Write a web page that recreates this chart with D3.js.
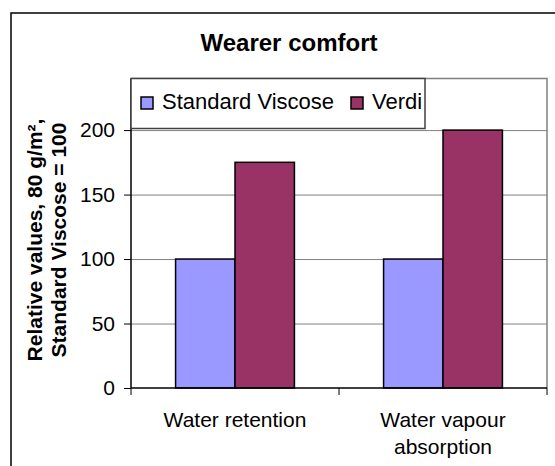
<!DOCTYPE html>
<html>
<head>
<meta charset="utf-8">
<script src="https://cdn.jsdelivr.net/npm/d3@7/dist/d3.min.js"></script>
<style>
  html, body { margin: 0; padding: 0; background: #fff; }
  svg { display: block; font-family: Arial, "Liberation Sans", sans-serif; }
</style>
</head>
<body>
<svg id="chart" width="555" height="466"></svg>
<script>
const categories = [["Water retention"], ["Water vapour", "absorption"]];
const categoryKeys = ["Water retention", "Water vapour absorption"];
const seriesNames = ["Standard Viscose", "Verdi"];
const standardViscose = [100, 100];
const verdi = [175, 200];
const yTicks = [0, 50, 100, 150, 200];
const colors = ["#9999FF", "#993366"];
const titleText = "Wearer comfort";

const svg = d3.select("#chart");

// outer chart border (extends past the picture on right/bottom)
svg.append("rect").attr("x", 11).attr("y", 13).attr("width", 570).attr("height", 480)
  .attr("fill", "#fff").attr("stroke", "#000").attr("stroke-width", 1.5);

const plot = { left: 131, right: 547, top: 78.5, bottom: 388 };

const y = d3.scaleLinear().domain([0, 240]).range([plot.bottom, plot.top]);
const x0 = d3.scaleBand().domain(categoryKeys).range([plot.left, plot.right]).padding(0);
const x1 = d3.scaleBand().domain(seriesNames).range([0, x0.bandwidth()]).paddingInner(0).paddingOuter(0.75);

// gridlines
svg.append("g").selectAll("line").data(yTicks.filter(d => d > 0)).join("line")
  .attr("x1", plot.left).attr("x2", plot.right)
  .attr("y1", d => y(d) + 0.5).attr("y2", d => y(d) + 0.5)
  .attr("stroke", "#808080").attr("stroke-width", 1);

// plot area border (top & right)
svg.append("path")
  .attr("d", `M${plot.left},${plot.top}H${plot.right}V${plot.bottom}`)
  .attr("fill", "none").attr("stroke", "#808080").attr("stroke-width", 1.5);

// bars
const seriesData = [standardViscose, verdi];
const groups = svg.append("g").selectAll("g").data(categoryKeys).join("g")
  .attr("transform", d => `translate(${x0(d)},0)`);
groups.selectAll("rect").data((d, i) => seriesNames.map((s, j) => ({ s, v: seriesData[j][i], j })))
  .join("rect")
  .attr("x", d => x1(d.s))
  .attr("y", d => y(d.v))
  .attr("width", x1.bandwidth())
  .attr("height", d => y(0) - y(d.v))
  .attr("fill", d => colors[d.j])
  .attr("stroke", "#000").attr("stroke-width", 1.5);

// y axis
const yAxis = d3.axisLeft(y).tickValues(yTicks).tickSize(7).tickPadding(9).tickFormat(d3.format("d"));
const gy = svg.append("g").attr("transform", `translate(${plot.left},0)`).call(yAxis);
gy.select(".domain").attr("stroke", "#000").attr("stroke-width", 1.5).attr("d", `M0,${plot.top}V${plot.bottom}`);
gy.selectAll(".tick line").attr("stroke", "#000");
gy.selectAll(".tick text").attr("font-size", 21).attr("fill", "#000")
  .attr("font-family", "Arial, 'Liberation Sans', sans-serif");

// x axis
const xAxis = d3.axisBottom(x0).tickSize(0).tickFormat("");
const gx = svg.append("g").attr("transform", `translate(0,${plot.bottom})`).call(xAxis);
gx.select(".domain").attr("stroke", "#000").attr("stroke-width", 1.5).attr("d", `M${plot.left},0H${plot.right}`);
// category boundary ticks
const bounds = [plot.left].concat(categoryKeys.map(k => x0(k) + x0.bandwidth()));
gx.selectAll(".bound").data(bounds).join("line").attr("class", "bound")
  .attr("x1", d => d).attr("x2", d => d).attr("y1", 0).attr("y2", 7)
  .attr("stroke", "#000").attr("stroke-width", 1);

// category labels
categoryKeys.forEach((k, i) => {
  const t = svg.append("text").attr("x", x0(k) + x0.bandwidth() / 2).attr("y", 427)
    .attr("text-anchor", "middle").attr("font-size", 21).attr("fill", "#000");
  categories[i].forEach((line, li) => {
    t.append("tspan").attr("x", x0(k) + x0.bandwidth() / 2).attr("dy", li === 0 ? 0 : 27).text(line);
  });
});

// title
svg.append("text").attr("x", 289).attr("y", 51).attr("text-anchor", "middle")
  .attr("font-size", 24).attr("font-weight", "bold").attr("fill", "#000").text(titleText);

// y axis title
const yt = svg.append("text").attr("transform", "translate(0,240) rotate(-90)")
  .attr("text-anchor", "middle").attr("font-size", 21).attr("font-weight", "bold").attr("fill", "#000");
yt.append("tspan").attr("x", 0).attr("y", 42).text("Relative values, 80 g/m²,");
yt.append("tspan").attr("x", 0).attr("y", 66).text("Standard Viscose = 100");

// legend (clipped, as in the reference)
const lg = svg.append("g");
lg.append("rect").attr("x", 131).attr("y", 78.5).attr("width", 294).attr("height", 50)
  .attr("fill", "#fff").attr("stroke", "#404040").attr("stroke-width", 1.5);
const clip = svg.append("clipPath").attr("id", "lgclip");
clip.append("rect").attr("x", 131).attr("y", 78).attr("width", 293).attr("height", 50);
const lgItems = lg.append("g").attr("clip-path", "url(#lgclip)");
const legendX = [141, 351];
seriesNames.forEach((s, i) => {
  lgItems.append("rect").attr("x", legendX[i]).attr("y", 97).attr("width", 12).attr("height", 12)
    .attr("fill", colors[i]).attr("stroke", "#000").attr("stroke-width", 1.5);
  lgItems.append("text").attr("x", legendX[i] + 21).attr("y", 109)
    .attr("font-size", 22).attr("fill", "#000").text(s);
});
</script>
</body>
</html>
